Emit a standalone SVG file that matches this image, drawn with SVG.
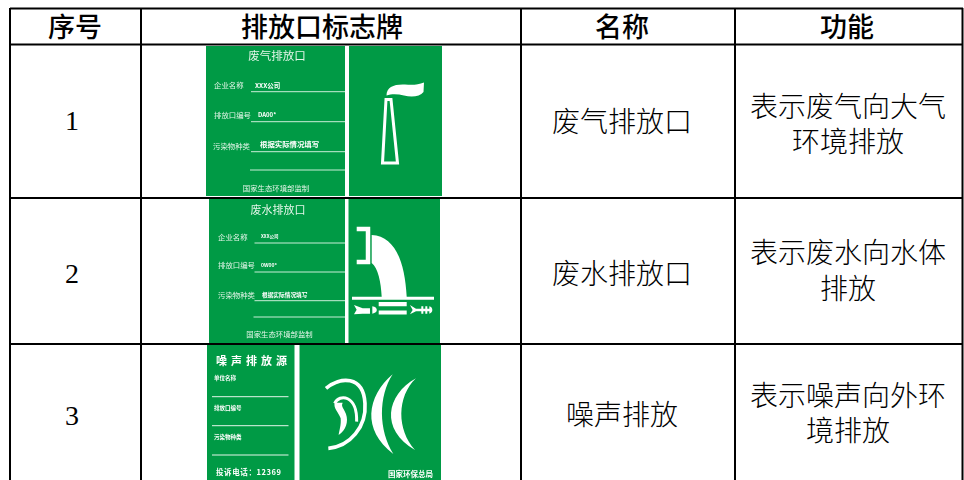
<svg xmlns="http://www.w3.org/2000/svg" width="964" height="480" viewBox="0 0 964 480">
<defs><filter id="soft" x="-2%" y="-2%" width="104%" height="104%"><feGaussianBlur stdDeviation="0.3"/></filter></defs>
<style>
text{font-family:"Noto Sans CJK SC",sans-serif;text-anchor:middle;fill:#000}
.h{font-size:27px;font-weight:500}
.b{font-family:"Liberation Serif","Noto Sans CJK SC",serif;font-size:28px;font-weight:300}
.n{font-family:"Liberation Serif",serif;font-size:28px}
.g{stroke:#000;stroke-width:2;fill:none}
.bg{fill:#009a44}
.w{fill:#fff}
.l{stroke:#c9eed8;stroke-width:1;fill:none}
.d{stroke:#fff;fill:none}
.s text{fill:#e4f6ea;text-anchor:start;font-size:7.4px}
.s .c{text-anchor:middle}
.s .t{font-size:11.5px}
.s .v{fill:#fff;font-weight:700}
</style>
<rect width="964" height="480" fill="#fff"/>
<g id="sign1" class="s" filter="url(#soft)">
<rect class="bg" x="206" y="46" width="236" height="150"/>
<rect class="w" x="345" y="46" width="4" height="150"/>
<text class="c t" x="277" y="60">废气排放口</text>
<text x="214" y="88">企业名称</text><text class="v" x="255" y="88" style="font-size:6.500px">XXX公司</text>
<text x="214" y="118">排放口编号</text><text class="v" x="258" y="117" style="font-size:6px">DA00*</text>
<text x="213" y="149">污染物种类</text><text class="v" x="260" y="147">根据实际情况填写</text>
<text class="c" x="276" y="191">国家生态环境部监制</text>
<path class="l" d="M251 91.700H345M251 121.700H345M251 151.700H345M250 170H345"/>
<path d="M386 99.500H391L397.500 163H382.500Z" fill="none" stroke="#fff" stroke-width="3"/>
<path class="w" d="M386.500 95.500C386.500 87 394 84 405 84.500C412 85 418 85 424 82.500L423.500 92C420 96.500 412 97.500 404 95.500C398 94 392 93.500 386.500 95.500Z"/>
</g>
<g id="sign2" class="s" filter="url(#soft)">
<rect class="bg" x="209" y="199" width="231" height="145"/>
<rect class="w" x="345" y="199" width="3.500" height="145"/>
<text class="c" x="278" y="214" style="font-size:11px">废水排放口</text>
<text x="218" y="240">企业名称</text><text class="v" x="261" y="238" style="font-size:4.500px">XXX公司</text>
<text x="218" y="268">排放口编号</text><text class="v" x="261" y="267" style="font-size:5px">0W00*</text>
<text x="218" y="298">污染物种类</text><text class="v" x="262" y="297" style="font-size:5.700px">根据实际情况填写</text>
<text class="c" x="279.500" y="337">国家生态环境部监制</text>
<path class="l" d="M254.500 243H345M254.500 272H345M254.500 300.700H345M253.500 317H345"/>
<path class="d" stroke-width="4.500" d="M356.700 229H368V262H356.700"/>
<path class="w" d="M371.700 235C395 236 405 262 406.700 297H381.700C381 282 378 268 371.700 263Z"/>
<path class="d" stroke-width="3" d="M352 298.300H434"/>
<path class="w" d="M378.700 302H406.700V306.300H378.700ZM378.700 310.500H406.700V314.500H378.700Z"/>
<g transform="translate(200 195) scale(.3333)">
<path class="w" d="M462 330L488 340H510V356H488L462 358L470 344Z"/>
<path class="w" d="M517 334C535 336 535 354 517 356Z"/>
<path class="w" d="M630 330L648 341H664V334H670V341H676V334H682V341H688V334C700 336 700 354 688 356V349H682V356H676V349H670V356H664V349H648L630 358L638 345Z"/>
</g>
</g>
<g id="sign3" class="s" filter="url(#soft)">
<rect class="bg" x="207" y="345" width="234" height="135"/>
<rect class="w" x="294.500" y="345" width="5" height="135"/>
<text class="v" x="216" y="365" style="font-size:11px;letter-spacing:4px">噪声排放源</text>
<text class="v" x="214" y="380" style="font-size:5.500px">单位名称</text>
<text class="v" x="214" y="410" style="font-size:5.500px">排放口编号</text>
<text class="v" x="214" y="439" style="font-size:5.500px">污染物种类</text>
<text class="v" x="216" y="475" style="font-size:7.500px;letter-spacing:.6px">投诉电话：12369</text>
<text class="v" x="388" y="477" style="font-size:7.500px">国家环保总局</text>
<path class="l" stroke-width="1.300" d="M212 396.700H288.500M212 425.700H288.500M212 455H288.500" style="stroke:#e4f6ea"/>
<g transform="translate(200 340) scale(.3333)">
<path d="M378 145C420 110 490 105 495 190C500 260 450 320 385 325" fill="none" stroke="#fff" stroke-width="11"/>
<path d="M404 190C418 160 472 165 470 245" fill="none" stroke="#fff" stroke-width="9"/>
<path class="w" d="M404 188C400 205 415 215 422 235C424 255 418 270 416 285C438 270 446 245 438 222C432 205 422 200 428 188Z"/>
<path class="w" d="M578 103C500 170 485 270 580 342C535 270 535 170 578 103Z"/>
<path class="w" d="M648 115C558 165 540 270 645 330C590 270 590 170 648 115Z"/>
</g>
</g>
<g id="table">
<path class="g" d="M10 8.500H963M10 44.500H963M10 198H963M10 344H963M10 8V480M141 8V480M521 8V480M735 8V480M962.500 8V480"/>
</g>
<g id="header">
<text class="h" x="75" y="37">序号</text>
<text class="h" x="322" y="37">排放口标志牌</text>
<text class="h" x="622" y="37">名称</text>
<text class="h" x="847" y="37">功能</text>
</g>
<g id="row1">
<text class="n" x="72" y="130">1</text>
<text class="b" x="622" y="132">废气排放口</text>
<text class="b" x="848"><tspan x="848" y="117">表示废气向大气</tspan><tspan x="848" y="152">环境排放</tspan></text>
</g>
<g id="row2">
<text class="n" x="72" y="283">2</text>
<text class="b" x="622" y="284">废水排放口</text>
<text class="b" x="848"><tspan x="848" y="263">表示废水向水体</tspan><tspan x="848" y="299">排放</tspan></text>
</g>
<g id="row3">
<text class="n" x="72" y="425">3</text>
<text class="b" x="622" y="425">噪声排放</text>
<text class="b" x="848"><tspan x="848" y="406">表示噪声向外环</tspan><tspan x="848" y="441">境排放</tspan></text>
</g>
</svg>
